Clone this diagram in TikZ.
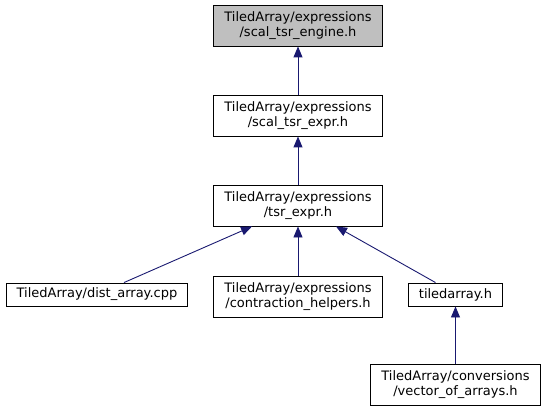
\documentclass[tikz,border=0pt]{standalone}
\usepackage{fontspec}
\setmainfont{DejaVu Sans}
\usetikzlibrary{arrows.meta}

\definecolor{edgeblue}{HTML}{191970}
\definecolor{focusgray}{HTML}{BFBFBF}

\begin{document}
\begin{tikzpicture}[
    x=1pt, y=-1pt,
    every node/.style={
            rectangle,
            draw=black,
            line width=0.9pt,
            font=\fontsize{13}{15.5}\selectfont,
            align=center,
            inner xsep=10.5pt,
            inner ysep=0pt
        },
    file_block/.style={minimum height=41pt},
    single_block/.style={minimum height=23pt},
    focus_block/.style={fill=focusgray},
    arrow/.style={draw=edgeblue, line width=0.9pt, -{Triangle[length=11pt, width=9pt]}}
    ]

    \useasboundingbox (0,0) rectangle (546,409);

    % --- Header chain ---
    \node (scal_tsr_engine) [file_block, focus_block] at (298,25.5) {TiledArray/expressions\\/scal\_tsr\_engine.h};
    \node (scal_tsr_expr) [file_block] at (298,115.5) {TiledArray/expressions\\/scal\_tsr\_expr.h};
    \node (tsr_expr) [file_block] at (298,205.5) {TiledArray/expressions\\/tsr\_expr.h};

    % --- Includers ---
    \node (dist_array) [single_block] at (97,294.5) {TiledArray/dist\_array.cpp};
    \node (contraction_helpers) [file_block] at (298,296.5) {TiledArray/expressions\\/contraction\_helpers.h};
    \node (tiledarray) [single_block] at (455.5,294.5) {tiledarray.h};
    \node (vector_of_arrays) [file_block] at (455.5,384.5) {TiledArray/conversions\\/vector\_of\_arrays.h};

    % --- Arrows ---
    \draw[arrow] (scal_tsr_expr) -- (scal_tsr_engine);
    \draw[arrow] (tsr_expr) -- (scal_tsr_expr);
    \draw[arrow] ([xshift=27pt]dist_array.north) -- ([xshift=-46pt]tsr_expr.south);
    \draw[arrow] (contraction_helpers) -- (tsr_expr);
    \draw[arrow] ([xshift=-20pt]tiledarray.north) -- ([xshift=38pt]tsr_expr.south);
    \draw[arrow] (vector_of_arrays) -- (tiledarray);

\end{tikzpicture}
\end{document}
